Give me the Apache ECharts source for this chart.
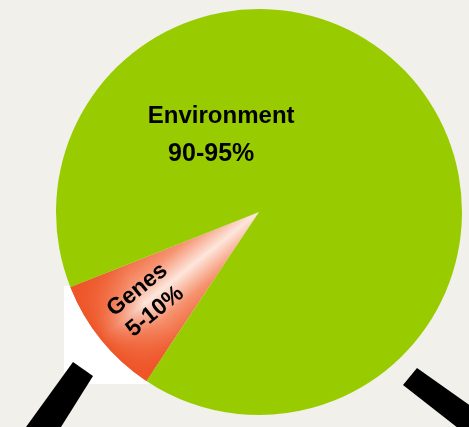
<!DOCTYPE html>
<html>
<head>
<meta charset="utf-8">
<script src="https://cdn.jsdelivr.net/npm/echarts@6/dist/echarts.min.js"></script>
<style>
  html, body { margin: 0; padding: 0; background: #f2f0eb; }
  #chart { width: 469px; height: 427px; }
</style>
</head>
<body>
<div id="chart"></div>
<script>
// Share of variation explained by each factor (percent of the whole pie)
const categories = ['Genes', 'Environment'];
const shares = [9.6, 90.4];
const rangeLabels = ['5-10%', '90-95%'];

const CX = 259, CY = 212, R = 203;
const FONT = 'Liberation Sans, Arial, sans-serif';

const chart = echarts.init(document.getElementById('chart'), null, { renderer: 'canvas' });

// Soft highlight across the narrow slice: red edges, pale centre line
const genesFill = {
  type: 'linear', global: true,
  x: 164 - 0.627 * 58, y: 288 - 0.779 * 58,
  x2: 164 + 0.627 * 58, y2: 288 + 0.779 * 58,
  colorStops: [
    { offset: 0, color: '#ee5528' },
    { offset: 0.3, color: '#f6926f' },
    { offset: 0.5, color: '#fde6dc' },
    { offset: 0.7, color: '#f6926f' },
    { offset: 1, color: '#ee5528' }
  ]
};
// Reddening toward the rim of the slice
const rimFill = {
  type: 'radial', global: true, x: CX, y: CY, r: R,
  colorStops: [
    { offset: 0, color: 'rgba(238,85,40,0)' },
    { offset: 0.72, color: 'rgba(238,85,40,0)' },
    { offset: 1, color: 'rgba(238,85,40,1)' }
  ]
};

const baseData = categories.map((name, i) => ({
  name,
  value: shares[i],
  itemStyle: { color: i === 0 ? genesFill : '#99cc00' }
}));
const rimData = categories.map((name, i) => ({
  name,
  value: shares[i],
  itemStyle: { color: i === 0 ? rimFill : 'rgba(0,0,0,0)' }
}));

const labelOffsets = [
  { dx: -39, dy: -2, rotate: 39 },
  { dx: -119, dy: -11, rotate: 0 }
];

const pieBase = {
  type: 'pie',
  center: [CX, CY],
  radius: [0, R],
  startAngle: 236.3,
  clockwise: true,
  labelLine: { show: false },
  emphasis: { disabled: true }
};

chart.setOption({
  backgroundColor: '#f2f0eb',
  animation: false,
  graphic: [
    // white backing card under the small slice
    { type: 'rect', z: -1, shape: { x: 64, y: 286, width: 110, height: 98 }, style: { fill: '#ffffff' } },
    // stand legs
    { type: 'polygon', z: 10, shape: { points: [[73, 362], [93, 376], [61, 427], [26, 427]] }, style: { fill: '#000000' } },
    { type: 'polygon', z: 10, shape: { points: [[417, 368], [482, 414], [472, 439], [403, 385]] }, style: { fill: '#000000' } }
  ],
  series: [
    Object.assign({}, pieBase, {
      z: 2,
      label: { show: false },
      data: baseData
    }),
    // rim shading on top, carrying the slice labels so they stay above it
    Object.assign({}, pieBase, {
      z: 3,
      silent: true,
      label: {
        show: true,
        position: 'inside',
        color: '#000',
        fontFamily: FONT,
        fontWeight: 'bold',
        formatter: (p) => p.dataIndex === 0
          ? '{g|' + p.name + '}\n{g|' + rangeLabels[0] + '}'
          : '{e|' + p.name + '}\n{f|' + rangeLabels[1] + '}',
        rich: {
          g: { fontSize: 23, fontWeight: 'bold', lineHeight: 28, fontFamily: FONT, color: '#000' },
          e: { fontSize: 24, fontWeight: 'bold', lineHeight: 38, fontFamily: FONT, color: '#000' },
          f: { fontSize: 25, fontWeight: 'bold', lineHeight: 38, padding: [0, 20, 0, 0], fontFamily: FONT, color: '#000' }
        }
      },
      labelLayout: (params) => labelOffsets[params.dataIndex],
      data: rimData
    })
  ]
});
</script>
</body>
</html>
